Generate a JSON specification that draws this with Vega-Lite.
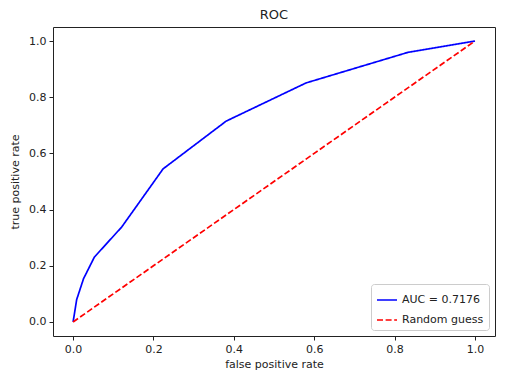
{
  "$schema": "https://vega.github.io/schema/vega-lite/v6.json",
  "width": 442,
  "height": 309,
  "autosize": {"type": "none"},
  "padding": {"left": 53, "top": 27, "right": 18, "bottom": 44},
  "background": "white",
  "config": {
    "font": "DejaVu Sans",
    "view": {"stroke": "#222", "strokeWidth": 1},
    "axis": {"grid": false, "domain": false, "tickColor": "#222", "tickSize": 4, "labelColor": "#222", "labelFontSize": 11, "titleColor": "#222", "titleFontSize": 11, "titleFontWeight": "normal", "labelPadding": 3}
  },
  "title": {"text": "ROC", "fontSize": 13, "fontWeight": "normal", "color": "#222", "offset": 5},
  "data": {"values": [
    {"fpr": 0.0, "tpr": 0.0, "series": "AUC = 0.7176"},
    {"fpr": 0.009, "tpr": 0.08, "series": "AUC = 0.7176"},
    {"fpr": 0.026, "tpr": 0.154, "series": "AUC = 0.7176"},
    {"fpr": 0.053, "tpr": 0.231, "series": "AUC = 0.7176"},
    {"fpr": 0.121, "tpr": 0.338, "series": "AUC = 0.7176"},
    {"fpr": 0.224, "tpr": 0.545, "series": "AUC = 0.7176"},
    {"fpr": 0.381, "tpr": 0.715, "series": "AUC = 0.7176"},
    {"fpr": 0.58, "tpr": 0.851, "series": "AUC = 0.7176"},
    {"fpr": 0.834, "tpr": 0.96, "series": "AUC = 0.7176"},
    {"fpr": 1.0, "tpr": 1.0, "series": "AUC = 0.7176"},
    {"fpr": 0.0, "tpr": 0.0, "series": "Random guess"},
    {"fpr": 1.0, "tpr": 1.0, "series": "Random guess"}
  ]},
  "mark": {"type": "line", "strokeWidth": 1.7, "clip": true},
  "encoding": {
    "x": {"field": "fpr", "type": "quantitative", "title": "false positive rate",
      "scale": {"domain": [-0.05, 1.05], "nice": false, "zero": false},
      "axis": {"values": [0, 0.2, 0.4, 0.6, 0.8, 1.0], "format": ".1f", "titlePadding": 4}},
    "y": {"field": "tpr", "type": "quantitative", "title": "true positive rate",
      "scale": {"domain": [-0.05, 1.05], "nice": false, "zero": false},
      "axis": {"values": [0, 0.2, 0.4, 0.6, 0.8, 1.0], "format": ".1f", "titlePadding": 8}},
    "color": {"field": "series", "type": "nominal", "title": null,
      "scale": {"domain": ["AUC = 0.7176", "Random guess"], "range": ["#0000ff", "#ff0000"]},
      "legend": {"orient": "bottom-right", "offset": 6, "fillColor": "white", "strokeColor": "#cccccc", "cornerRadius": 3, "padding": 5, "symbolType": "stroke", "symbolSize": 400, "symbolStrokeWidth": 1.7, "labelFontSize": 11, "labelColor": "#222", "rowPadding": 4}},
    "strokeDash": {"field": "series", "type": "nominal", "title": null,
      "scale": {"domain": ["AUC = 0.7176", "Random guess"], "range": [[1, 0], [6, 2.6]]}}
  }
}
